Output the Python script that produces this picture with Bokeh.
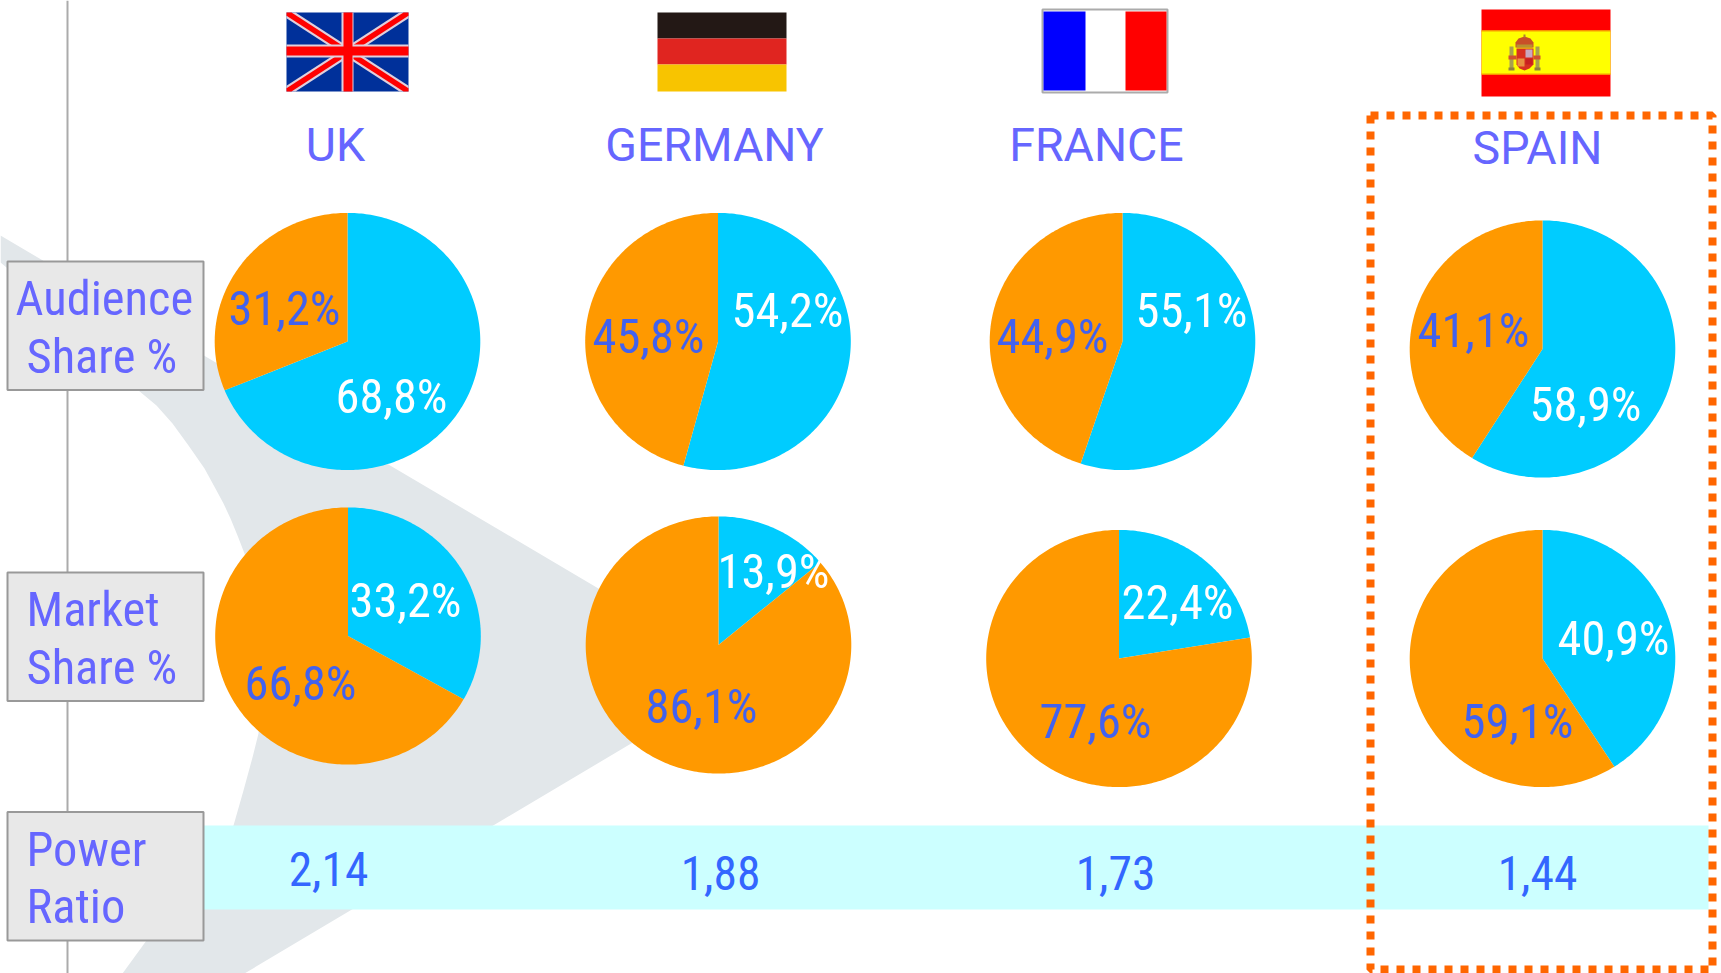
import math
from bokeh.plotting import figure
from bokeh.models import Range1d
from bokeh.core.properties import value
from bokeh.embed import file_html
from bokeh.resources import INLINE

# ---- data ----
countries = ["UK", "GERMANY", "FRANCE", "SPAIN"]
audience_blue = [68.8, 54.2, 55.1, 58.9]
audience_orange = [31.2, 45.8, 44.9, 41.1]
market_blue = [33.2, 13.9, 22.4, 40.9]
market_orange = [66.8, 86.1, 77.6, 59.1]
power_ratio = [2.14, 1.88, 1.73, 1.44]

# ---- layout (reference pixels) ----
W, H = 1721, 973
BLUE, ORANGE = "#00CCFF", "#FF9900"
HEAD, LAB, VAL = "#6666FF", "#4262EE", "#3366FF"
NARROW = value("Roboto Condensed")
NORMAL = value("Roboto")
TEXT_DY = -17.5

p = figure(width=W, height=H, output_backend="svg", toolbar_location=None,
           x_range=Range1d(0, W), y_range=Range1d(H, 0),
           min_border=0, outline_line_color=None, background_fill_color="white")
p.axis.visible = False
p.grid.visible = False


def rect(x0, y0, x1, y1, **kw):
    kw.setdefault("line_color", None)
    p.patch([x0, x1, x1, x0], [y0, y0, y1, y1], **kw)


# background chevron
bg_x = [0, 432, 745, 244, 122, 146, 190, 233, 243, 252, 258, 259, 258, 252, 244, 237, 230, 223, 216, 204, 188, 172, 156, 138, 70, 0]
bg_y = [235, 490, 675, 973, 973, 940, 885, 825, 790, 757, 733, 700, 650, 600, 553, 535, 518, 503, 490, 468, 445, 423, 405, 390, 320, 262]
p.patch(bg_x, bg_y, fill_color="#E2E7EA", line_color=None)

# vertical rule
p.line([67, 67], [0, H], line_color="#ABABAB", line_width=2)

# power ratio band
rect(203, 825, 1708, 909, fill_color="#CCFFFF")

# row boxes
for y0, y1 in [(261, 389.5), (572, 700.5), (811.5, 940)]:
    rect(7, y0, 203, y1, fill_color="#E8E8E8", line_color="#999999", line_width=2)

# pies
centers_x = [[347, 717.5, 1122, 1542], [347.5, 718, 1118.5, 1542]]
centers_y = [[341, 341, 341, 348.5], [635.5, 644.5, 658, 658]]
RX, RY = 132.8, 128.6


def slice_pts(cx, cy, a0, a1):
    n = max(2, int((a1 - a0) / 1.0))
    xs, ys = [cx], [cy]
    for i in range(n + 1):
        a = math.radians(a0 + (a1 - a0) * i / n)
        xs.append(cx + RX * math.sin(a))
        ys.append(cy - RY * math.cos(a))
    return xs, ys


for row, (blue, orange) in enumerate([(audience_blue, audience_orange), (market_blue, market_orange)]):
    for i in range(4):
        cx, cy = centers_x[row][i], centers_y[row][i]
        split = blue[i] * 3.6
        xs, ys = slice_pts(cx, cy, 0, split)
        p.patch(xs, ys, fill_color=BLUE, line_color=None)
        xs, ys = slice_pts(cx, cy, split, split + orange[i] * 3.6)
        p.patch(xs, ys, fill_color=ORANGE, line_color=None)

# flags --------------------------------------------------------------
# UK
ux0, uy0, ux1, uy1 = 286, 12, 408, 91
rect(ux0, uy0, ux1, uy1, fill_color="#00309A")


def diag(x0, y0, x1, y1, t, color):
    p.patch([x0, x0 + t, x1, x1, x1 - t, x0], [y0, y0, y1 - t * .65, y1, y1, y0 + t * .65],
            fill_color=color, line_color=None)


for t, col in [(9, "#E0D0DC"), (5, "#FF0000")]:
    diag(ux0, uy0, ux1, uy1, t, col)
    p.patch([ux0, ux0 + t, ux1, ux1, ux1 - t, ux0], [uy1, uy1, uy0 + t * .65, uy0, uy0, uy1 - t * .65],
            fill_color=col, line_color=None)
rect(341, uy0, 353, uy1, fill_color="#E0D0DC")
rect(ux0, 44, ux1, 57, fill_color="#E0D0DC")
rect(343, uy0, 352, uy1, fill_color="#FF0000")
rect(ux0, 46, ux1, 55, fill_color="#FF0000")

# Germany
for y0, y1, col in [(12, 38, "#231815"), (38, 64, "#E02520"), (64, 91, "#F8C400")]:
    rect(657, y0, 786, y1, fill_color=col)

# France
rect(1042, 9, 1167, 92, fill_color="white", line_color="#ABABAB", line_width=2)
rect(1043, 11, 1085, 90, fill_color="#0000FF")
rect(1125, 11, 1166, 90, fill_color="#FF0000")

# Spain
rect(1481, 9, 1610, 96, fill_color="#FF0000")
rect(1481, 30, 1610, 74, fill_color="#FFFF00")
rect(1481, 30, 1610, 31, fill_color="#F8A000")
rect(1481, 73, 1610, 74, fill_color="#F8A000")
# coat of arms
p.patch([1515, 1515, 1518, 1524, 1530, 1533, 1533], [47, 42, 38, 36, 38, 42, 47], fill_color="#C85028", line_color=None)
rect(1523, 34, 1525, 37, fill_color="#B08030")
rect(1516, 44, 1532, 47, fill_color="#B89030")
rect(1509, 46, 1513, 69, fill_color="#A8A050")
rect(1535, 46, 1539, 69, fill_color="#A8A050")
rect(1508, 67, 1514, 70, fill_color="#908040")
rect(1534, 67, 1540, 70, fill_color="#908040")
rect(1508, 55, 1516, 59, fill_color="#D05030")
rect(1533, 55, 1540, 59, fill_color="#D05030")
p.patch([1516, 1533, 1533, 1529, 1524, 1519, 1516], [48, 48, 64, 68, 70, 68, 64], fill_color="#D83020", line_color=None)
rect(1525, 49, 1532, 57, fill_color="#C8A8C0")
rect(1517, 58, 1524, 66, fill_color="#E89040")
rect(1525, 58, 1532, 64, fill_color="#C82020")

# dotted highlight box
bx0, by0, bx1, by1 = 1370, 115, 1712, 969
p.line([bx0, bx1, bx1, bx0, bx0], [by0, by0, by1, by1, by0], line_color="#FF6600", line_width=8, line_dash="8 8")


def txt(x, y, s, size, color, font, align="center"):
    p.text([x], [y + TEXT_DY], text=[s], text_font=font, text_font_size=f"{size}px", text_color=color,
           text_align=align, text_baseline="alphabetic")


# headers
head_x = [335, 714, 1096, 1537]
head_y = [162, 162, 162, 165]
for s, x, y in zip(countries, head_x, head_y):
    txt(x, y, s, 46.5, HEAD, NORMAL)

# row labels
for s, x, y in [("Audience", 15, 315), ("Share %", 26, 373), ("Market", 26, 626), ("Share %", 26, 684),
                ("Power", 26, 866), ("Ratio", 26, 923)]:
    txt(x, y, s, 48.5, HEAD, NARROW, "left")


def fmt(v, d=1):
    return f"{v:.{d}f}".replace(".", ",")


blue_lab = [[(391, 413), (787, 327), (1191, 327), (1585, 421)], [(405, 617), (773, 588), (1177, 619), (1613, 655)]]
orange_lab = [[(284, 325), (648, 353), (1052, 353), (1473, 347)], [(300, 700), (701, 723), (1095, 738), (1517, 738)]]
for row, (blue, orange) in enumerate([(audience_blue, audience_orange), (market_blue, market_orange)]):
    for i in range(4):
        x, y = blue_lab[row][i]
        txt(x, y, fmt(blue[i]) + "%", 48.5, "white", NARROW)
        x, y = orange_lab[row][i]
        txt(x, y, fmt(orange[i]) + "%", 48.5, LAB, NARROW)

power_x = [328, 720, 1115, 1537]
power_y = [886, 889.5, 889.5, 889.5]
for v, x, y in zip(power_ratio, power_x, power_y):
    txt(x, y, fmt(v, 2), 47.5, VAL, NARROW)

open("out.html", "w").write(file_html(p, INLINE))
